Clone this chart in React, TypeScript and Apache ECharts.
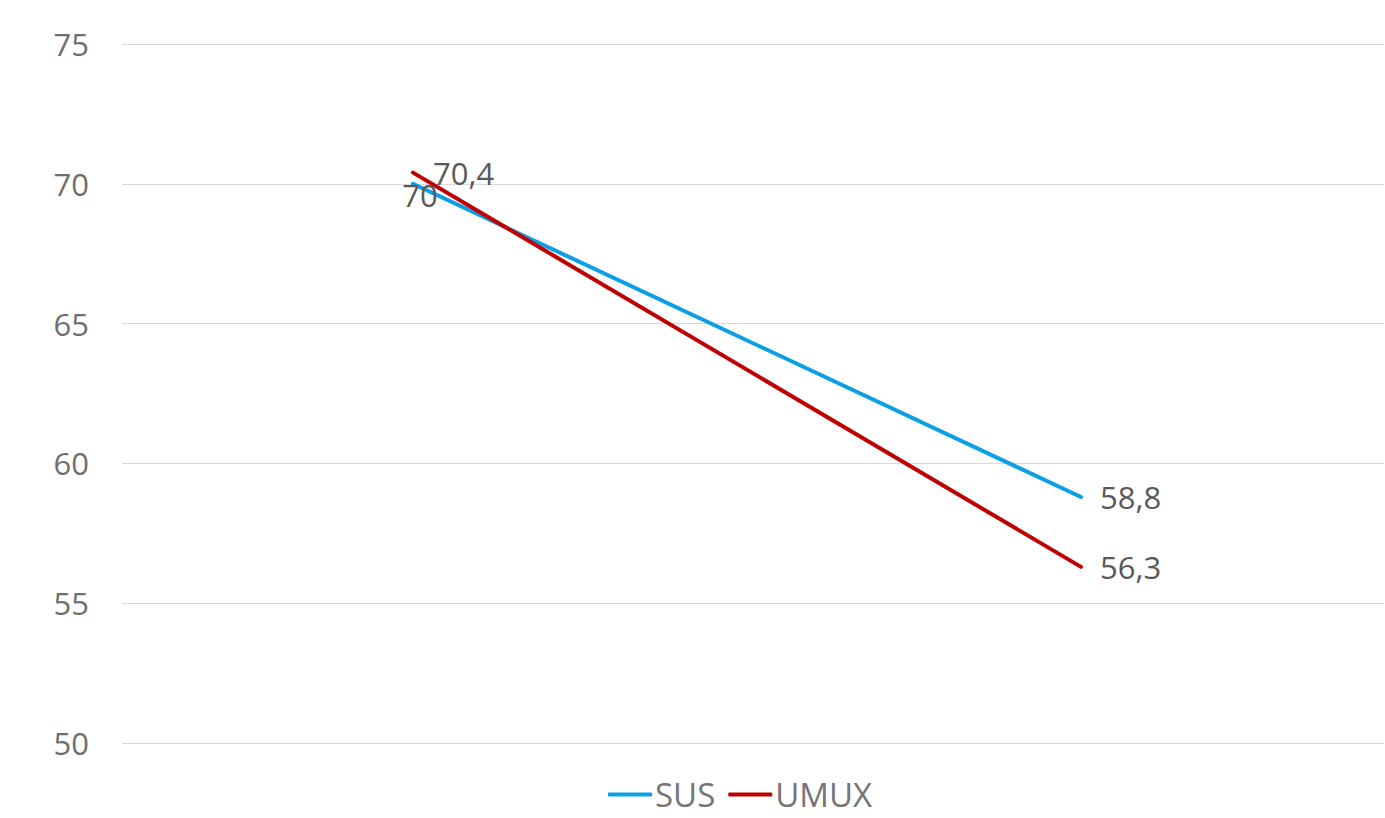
import React, { useEffect, useRef } from "react";
import * as echarts from "echarts";

const categories = ["1", "2"];
const susValues = [70, 58.8];
const umuxValues = [70.4, 56.3];
const susLabels = ["70", "58,8"];
const umuxLabels = ["70,4", "56,3"];
const yTicks = { min: 50, max: 75, interval: 5 };

const FONT = "'Open Sans', 'Noto Sans', sans-serif";

export default function App() {
  const ref = useRef<HTMLDivElement>(null);
  useEffect(() => {
    if (!ref.current) return;
    const chart = echarts.init(ref.current, undefined, { renderer: "svg" });
    const mk = (vals: number[], labels: string[], first: any) =>
      vals.map((v, i) => ({
        value: [i, v],
        label:
          i === 0
            ? { ...first, formatter: labels[i] }
            : { position: "right", distance: 19, formatter: labels[i] },
      }));
    chart.setOption({
      animation: false,
      backgroundColor: "#ffffff",
      grid: { left: 122, right: 1, top: 44, bottom: 75 },
      xAxis: {
        type: "value",
        min: -0.4356,
        max: 1.4536,
        show: false,
        splitLine: { show: false },
      },
      yAxis: {
        type: "value",
        min: yTicks.min,
        max: yTicks.max,
        interval: yTicks.interval,
        axisLine: { show: false },
        axisTick: { show: false },
        axisLabel: {
          color: "#6f6f6f",
          fontSize: 31,
          fontFamily: FONT,
          margin: 33,
        },
        splitLine: { lineStyle: { color: "#d9d9d9", width: 1 } },
      },
      legend: {
        bottom: 7,
        left: 608,
        padding: 0,
        itemWidth: 44,
        itemHeight: 4,
        itemGap: 13,
        icon: "roundRect",
        textStyle: {
          color: "#757575",
          fontSize: 33,
          lineHeight: 28,
          fontFamily: FONT,
          padding: [0, 0, 0, -2],
        },
        data: ["SUS", "UMUX"],
      },
      series: [
        {
          name: "SUS",
          type: "line",
          symbol: "circle",
          symbolSize: 0,
          showSymbol: true,
          color: "#0a9fe6",
          lineStyle: { width: 4, color: "#0a9fe6", cap: "round" },
          label: {
            show: true,
            color: "#595959",
            fontSize: 31,
            fontFamily: FONT,
          },
          data: mk(susValues, susLabels, {
            position: "inside",
            offset: [7, 11],
          }),
        },
        {
          name: "UMUX",
          type: "line",
          symbol: "circle",
          symbolSize: 0,
          showSymbol: true,
          color: "#c00000",
          lineStyle: { width: 4, color: "#c00000", cap: "round" },
          label: {
            show: true,
            color: "#595959",
            fontSize: 31,
            fontFamily: FONT,
          },
          data: mk(umuxValues, umuxLabels, {
            position: "right",
            distance: 20,
          }),
        },
      ],
    });
    void categories;
    return () => chart.dispose();
  }, []);
  return (
    <div
      ref={ref}
      style={{ position: "fixed", left: 0, top: 0, width: 1385, height: 818 }}
    />
  );
}
